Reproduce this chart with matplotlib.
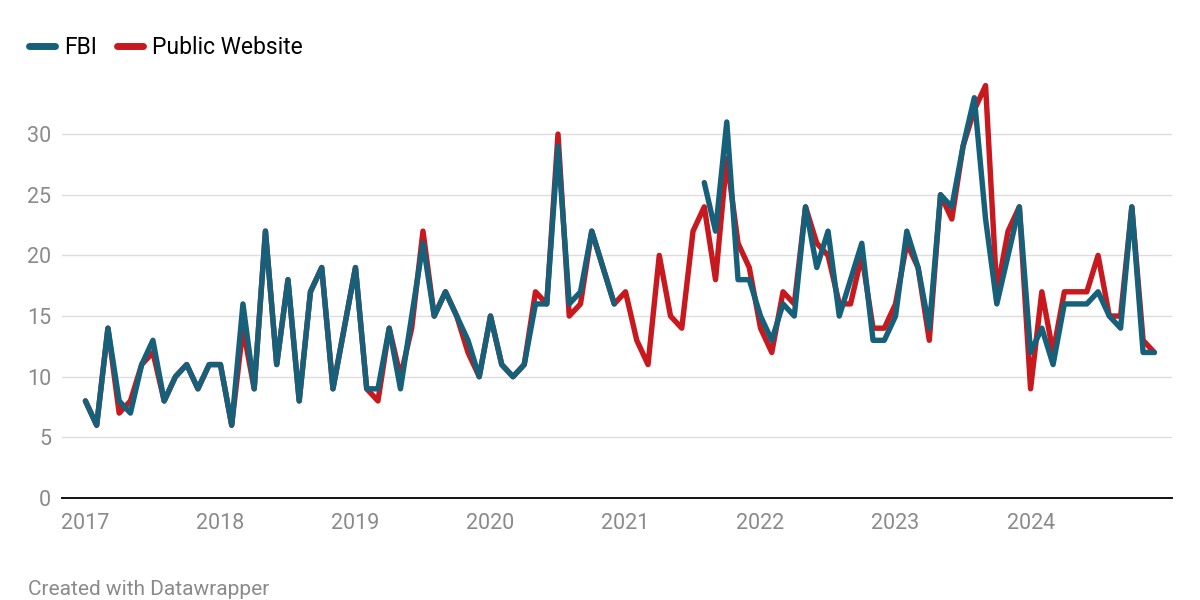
import numpy as np
import matplotlib
matplotlib.use("Agg")
import matplotlib.pyplot as plt
from matplotlib.lines import Line2D

plt.rcParams['font.family'] = ['Roboto', 'DejaVu Sans']

# monthly counts, Jan 2017 - Dec 2024
years = [2017, 2018, 2019, 2020, 2021, 2022, 2023, 2024]
nan = np.nan

fbi = [8, 6, 14, 8, 7, 11, 13, 8, 10, 11, 9, 11,
       11, 6, 16, 9, 22, 11, 18, 8, 17, 19, 9, 14,
       19, 9, 9, 14, 9, 15, 21, 15, 17, 15, 13, 10,
       15, 11, 10, 11, 16, 16, 29, 16, 17, 22, 19, 16,
       nan, nan, nan, nan, nan, nan, nan, 26, 22, 31, 18, 18,
       15, 13, 16, 15, 24, 19, 22, 15, 18, 21, 13, 13,
       15, 22, 19, 14, 25, 24, 29, 33, 23, 16, 20, 24,
       12, 14, 11, 16, 16, 16, 17, 15, 14, 24, 12, 12]

public_site = [8, 6, 14, 7, 8, 11, 12, 8, 10, 11, 9, 11,
               11, 6, 14, 9, 22, 11, 18, 8, 17, 19, 9, 14,
               19, 9, 8, 14, 10, 14, 22, 15, 17, 15, 12, 10,
               15, 11, 10, 11, 17, 16, 30, 15, 16, 22, 19, 16,
               17, 13, 11, 20, 15, 14, 22, 24, 18, 28, 21, 19,
               14, 12, 17, 16, 24, 21, 20, 16, 16, 20, 14, 14,
               16, 21, 19, 13, 25, 23, 29, 32, 34, 17, 22, 24,
               9, 17, 12, 17, 17, 17, 20, 15, 15, 24, 13, 12]

yticks = [0, 5, 10, 15, 20, 25, 30]

blue = '#17607a'
red = '#c8191e'
grey = '#8a8a8a'

t = years[0] + np.arange(len(fbi)) / 12.0

fig = plt.figure(figsize=(12, 6), dpi=100)
ax = fig.add_axes([0.052, 0.17, 0.925, 35 * 12.13 / 600])

ax.plot(t, public_site, color=red, lw=3.9, solid_joinstyle='round', solid_capstyle='round', zorder=3)
ax.plot(t, fbi, color=blue, lw=3.9, solid_joinstyle='round', solid_capstyle='round', zorder=4)

ax.set_xlim(2017 - 23 / 134.9, 2017 + 1086 / 134.9)
ax.set_ylim(0, 35)
ax.set_yticks(yticks)
ax.set_yticklabels([str(v) for v in yticks])
ax.set_xticks(years)
ax.set_xticklabels([str(y) for y in years])
ax.tick_params(axis='both', length=0, labelsize=15.5, labelcolor=grey)
ax.tick_params(axis='y', pad=8)
ax.tick_params(axis='x', pad=11)
for lab in ax.get_yticklabels():
    lab.set_horizontalalignment('right')

ax.grid(axis='y', color='#dddddd', lw=1)
ax.set_axisbelow(True)
for s in ['top', 'right', 'left']:
    ax.spines[s].set_visible(False)
ax.spines['bottom'].set_color('#111111')
ax.spines['bottom'].set_linewidth(1.4)
ax.spines['bottom'].set_zorder(5)

handles = [Line2D([], [], color=blue, lw=5, solid_capstyle='round'),
           Line2D([], [], color=red, lw=5, solid_capstyle='round')]
fig.legend(handles, ['FBI', 'Public Website'], loc='center left', bbox_to_anchor=(0.024, 0.921),
           ncol=2, frameon=False, fontsize=16.5, handlelength=1.15, handletextpad=0.4,
           columnspacing=0.85, borderaxespad=0, borderpad=0)

fig.text(0.023, 0.017, 'Created with Datawrapper', color=grey, fontsize=15, ha='left', va='center')

fig.savefig('out.png', dpi=100, facecolor='white')
